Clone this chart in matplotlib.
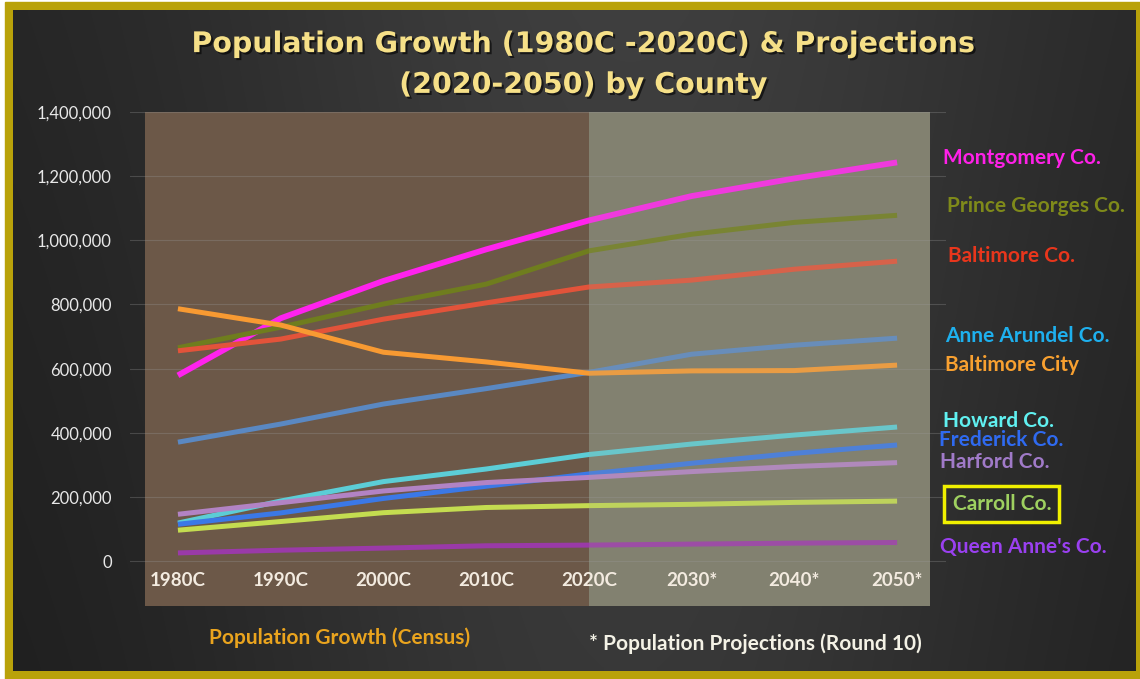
import numpy as np
import matplotlib
matplotlib.use('Agg')
import matplotlib.pyplot as plt
import matplotlib.patches as mpatches
import matplotlib.patheffects as pe
from matplotlib.ticker import FuncFormatter

plt.rcParams['font.family'] = ['Lato', 'DejaVu Sans']

# data (census 1980-2020, projections 2030-2050)
years = ['1980C', '1990C', '2000C', '2010C', '2020C', '2030*', '2040*', '2050*']
counties = ['Montgomery Co.', 'Prince Georges Co.', 'Baltimore Co.', 'Anne Arundel Co.',
            'Baltimore City', 'Howard Co.', 'Frederick Co.', 'Harford Co.',
            'Carroll Co.', "Queen Anne's Co."]
montgomery = [579053, 757027, 873341, 971777, 1062061, 1138000, 1193000, 1243000]
prince_georges = [665071, 729268, 801515, 863420, 967201, 1019000, 1056000, 1078000]
baltimore_co = [655615, 692134, 754292, 805029, 854535, 876000, 910000, 935000]
anne_arundel = [370775, 427239, 489656, 537656, 588261, 645000, 673000, 695000]
baltimore_city = [786775, 736014, 651154, 620961, 585708, 593000, 594000, 611000]
howard = [118572, 187328, 247842, 287085, 332317, 365000, 393000, 418000]
frederick = [114792, 150208, 195277, 233385, 271717, 305000, 336000, 362000]
harford = [145930, 182132, 218590, 244826, 260924, 279000, 295000, 307000]
carroll = [96356, 123372, 150897, 167134, 172891, 177000, 183000, 187000]
queen_annes = [25508, 33953, 40563, 47798, 49874, 53000, 56000, 58000]
series = [montgomery, prince_georges, baltimore_co, anne_arundel, baltimore_city,
          howard, frederick, harford, carroll, queen_annes]

line_colors = ['#ff22ee', '#6f7d1e', '#e2533a', '#5a88c2', '#f89a32',
               '#5ccdd6', '#3b78e6', '#b283c4', '#c4dc50', '#9a3aa8']
label_colors = ['#ff20e8', '#7f8a1a', '#e8361c', '#1eb0ee', '#f8a030',
                '#60f0f0', '#2f6af0', '#a07ac8', '#9ed060', '#9a40f0']
label_y = [1256000, 1106000, 950000, 701000, 611000, 436000, 377000, 309000, 178000, 44000]
label_dx = [0.45, 0.49, 0.50, 0.47, 0.47, 0.45, 0.41, 0.42, 0.54, 0.42]

fig = plt.figure(figsize=(11.4, 6.79), dpi=100, facecolor='white')

# background: yellow frame + dark gradient
bg = fig.add_axes([0, 0, 1, 1], zorder=-5)
bg.add_patch(mpatches.Rectangle((5, 2), 1140, 677, color='#b9a20a', zorder=1))
gx = np.linspace(0, 1, 300)
shade = 0.11 + 0.11 * np.exp(-((gx - 0.55) / 0.4) ** 2)
gy = np.linspace(0, 1, 100)[:, None]
img = shade[None, :] + 0.025 * (1 - gy)
img = np.dstack([img, img, img])
bg.imshow(img, extent=(13, 1136, 671, 10), aspect='auto', interpolation='bilinear', zorder=2)
bg.set_xlim(0, 1140)
bg.set_ylim(679, 0)
bg.axis('off')

ax = fig.add_axes([0.114, 0.1075, 0.716, 0.7275])
ax.set_facecolor('none')
x = np.arange(len(years))
ax.set_xlim(-0.467, 7.478)
ax.set_ylim(-140000, 1400000)

# census / projection panels
ax.add_patch(mpatches.Rectangle((-0.32, -140000), 4.32, 1540000, color='#6c5848', zorder=0, lw=0))
ax.add_patch(mpatches.Rectangle((4, -140000), 3.32, 1540000, color='#7a7968', zorder=0, lw=0))

for i in range(0, 1400001, 200000):
    ax.axhline(i, color='#9a9a9a', lw=0.8, alpha=0.3, zorder=1)

for s, c in zip(series, line_colors):
    lw = 4.2 if c == '#ff22ee' else 3.6
    ax.plot(x, s, color=c, lw=lw, zorder=3, solid_capstyle='butt')

# projection area washes over the lines a bit
ax.add_patch(mpatches.Rectangle((4, -140000), 3.32, 1540000, color='#a8a898', alpha=0.18, zorder=4, lw=0))

for spine in ax.spines.values():
    spine.set_visible(False)
ax.set_yticks(range(0, 1400001, 200000))
ax.yaxis.set_major_formatter(FuncFormatter(lambda v, p: f'{int(v):,}'))
ax.tick_params(axis='y', length=0, pad=13, labelsize=12, labelcolor='#e8e8e8')
ax.set_xticks([])
for xi, yr in zip(x, years):
    ax.text(xi, -62000, yr, ha='center', va='center', fontsize=13.5, fontweight='bold',
            color='#f3ebe0', zorder=5)

# county labels on the right
for i, name in enumerate(counties):
    t = ax.text(7 + label_dx[i], label_y[i], name, ha='left', va='center', fontsize=15,
                fontweight='bold', color=label_colors[i], clip_on=False)
    if name == 'Carroll Co.':
        t.set_bbox(dict(boxstyle='square,pad=0.4', fc='none', ec='#f0f000', lw=2.5))

fig.text(0.512, 0.905, 'Population Growth (1980C -2020C) & Projections\n(2020-2050) by County',
         ha='center', va='center', fontsize=20.5, fontweight='bold', color='#f6e088',
         family=['DejaVu Sans'], linespacing=1.58,
         path_effects=[pe.withSimplePatchShadow(offset=(1.5, -1.5), shadow_rgbFace='black', alpha=0.6)])
fig.text(0.298, 0.061, 'Population Growth (Census)', ha='center', va='center',
         fontsize=15, fontweight='bold', color='#eaa41e')
fig.text(0.663, 0.052, '* Population Projections (Round 10)', ha='center', va='center',
         fontsize=15, fontweight='bold', color='#f4f2e6')

fig.savefig('out.png', dpi=100, facecolor='white')
